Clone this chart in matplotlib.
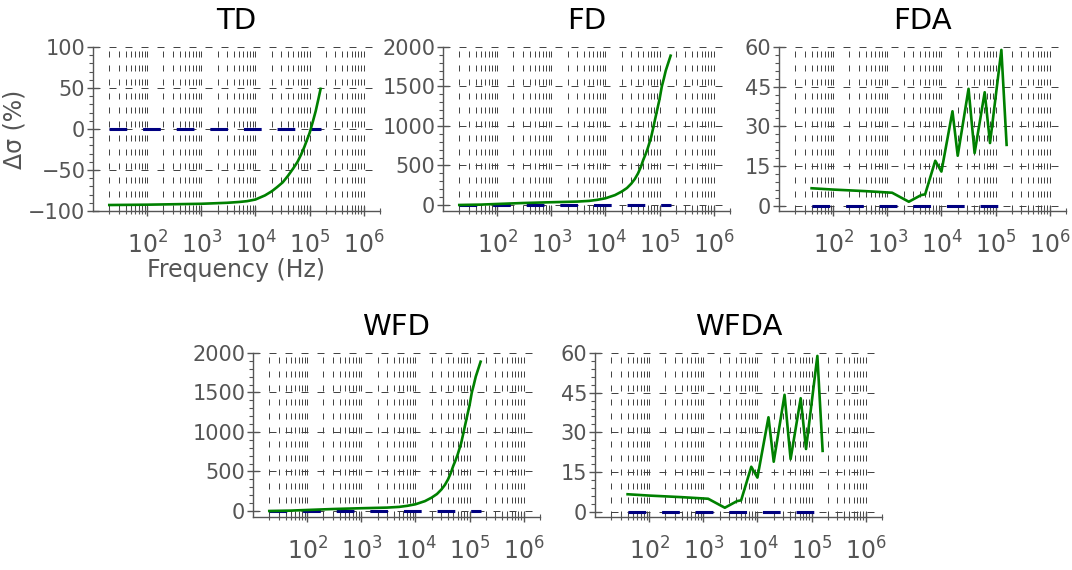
import numpy as np
import matplotlib
matplotlib.use("Agg")
import matplotlib.pyplot as plt
from matplotlib.ticker import MultipleLocator, AutoMinorLocator, FixedLocator, LogFormatterSciNotation

# ---- data ----
freq_td = [20, 100, 1000, 3000, 5000, 7000, 1e4, 1.5e4, 2e4, 2.5e4, 3.2e4, 4e4, 5e4,
           6e4, 7e4, 8e4, 9e4, 1e5, 1.15e5, 1.3e5, 1.45e5, 1.6e5]
val_td = [-92.7, -92.3, -91.2, -90.0, -89.0, -88.0, -86.0, -81.0, -76.0, -71.0, -65.0,
          -57.0, -48.0, -40.0, -31.0, -22.0, -13.0, -5.0, 9.0, 22.0, 36.0, 49.0]

freq_fd = [20, 50, 100, 300, 1000, 2000, 3000, 5000, 7000, 1e4, 1.5e4, 2e4, 2.5e4, 3e4,
           3.5e4, 4e4, 4.5e4, 5e4, 5.5e4, 6e4, 7e4, 8e4, 9e4, 1e5, 1.1e5, 1.2e5, 1.3e5,
           1.45e5, 1.6e5]
val_fd = [0, 5, 13, 25, 35, 40, 43, 52, 65, 85, 125, 170, 215, 270, 330, 400, 480, 571,
          640, 710, 860, 1040, 1200, 1340, 1500, 1600, 1700, 1800, 1890]

freq_fda = [40, 100, 400, 1230, 2500, 4200, 5000, 7700, 1e4, 1.6e4, 2e4, 3.17e4, 4.1e4,
            6.3e4, 7.9e4, 1.28e5, 1.6e5]
val_fda = [6.6, 6.1, 5.5, 4.9, 1.5, 4.0, 4.3, 17.0, 12.9, 35.7, 18.9, 44.2, 19.9, 42.9,
           23.7, 58.9, 23.0]

panels = [
    # title, freq, values, ylim, major step, axes box in px (left, top, right, bottom)
    ("TD", freq_td, val_td, (-100, 100), 50, (93, 47, 380, 211)),
    ("FD", freq_fd, val_fd, (-76, 2000), 500, (443, 47, 730, 211)),
    ("FDA", freq_fda, val_fda, (-2, 60), 15, (779, 47, 1066, 211)),
    ("WFD", freq_fd, val_fd, (-76, 2000), 500, (253, 353, 540, 517)),
    ("WFDA", freq_fda, val_fda, (-2, 60), 15, (595, 353, 882, 517)),
]

W, H = 1072, 570
GRAY = "#555555"
fig = plt.figure(figsize=(W / 100, H / 100), dpi=100)

minor_x = [m * 10 ** e for e in range(1, 7) for m in range(2, 10) if m * 10 ** e <= 2e6]

for i, (title, fr, vals, ylim, step, box) in enumerate(panels):
    l, t, r, b = box
    ax = fig.add_axes([l / W, 1 - b / H, (r - l) / W, (b - t) / H])
    ax.set_xscale("log")
    ax.set_xlim(10, 2e6)
    ax.set_ylim(*ylim)

    ax.xaxis.set_major_locator(FixedLocator([1e2, 1e3, 1e4, 1e5, 1e6]))
    ax.xaxis.set_minor_locator(FixedLocator(minor_x))
    ax.xaxis.set_major_formatter(LogFormatterSciNotation())
    ax.xaxis.set_minor_formatter(plt.NullFormatter())
    ax.yaxis.set_major_locator(MultipleLocator(step))
    ax.yaxis.set_minor_locator(AutoMinorLocator(5))

    # grid: dashed verticals at every decade step, dashed horizontals at majors
    ax.xaxis.grid(True, which="both", color="#444444", linewidth=0.72,
                  linestyle=(0, (6, 8)))
    ax.yaxis.grid(True, which="major", color="#444444", linewidth=0.72,
                  linestyle=(0, (7, 9)))
    ax.set_axisbelow(True)

    for s in ("top", "right"):
        ax.spines[s].set_visible(False)
    for s in ("left", "bottom"):
        ax.spines[s].set_color(GRAY)
        ax.spines[s].set_linewidth(1)

    ax.tick_params(axis="x", which="major", direction="inout", length=7, width=1,
                   color=GRAY, labelcolor=GRAY, labelsize=17, pad=11)
    ax.tick_params(axis="x", which="minor", direction="inout", length=4, width=0.8,
                   color=GRAY)
    ax.tick_params(axis="y", which="major", direction="inout", length=9, width=1,
                   color=GRAY, labelcolor=GRAY, labelsize=15, pad=1)
    ax.tick_params(axis="y", which="minor", direction="out", length=3, width=0.8,
                   color=GRAY)

    zero = np.zeros(len(fr))
    ax.plot(fr, zero, color="#000080", linewidth=2.2,
            linestyle=(0, (5.8, 5.2)), zorder=2)
    ax.plot(fr, vals, color="#008000", linewidth=1.9, zorder=3)

    ax.set_title(title, fontsize=21, color="black", pad=13)

    if i == 0:
        ax.set_xlabel("Frequency (Hz)", fontsize=17, color=GRAY, labelpad=0)
        ax.set_ylabel("Δσ (%)", fontsize=17, color=GRAY, labelpad=1)

fig.savefig("out.png", dpi=100)
